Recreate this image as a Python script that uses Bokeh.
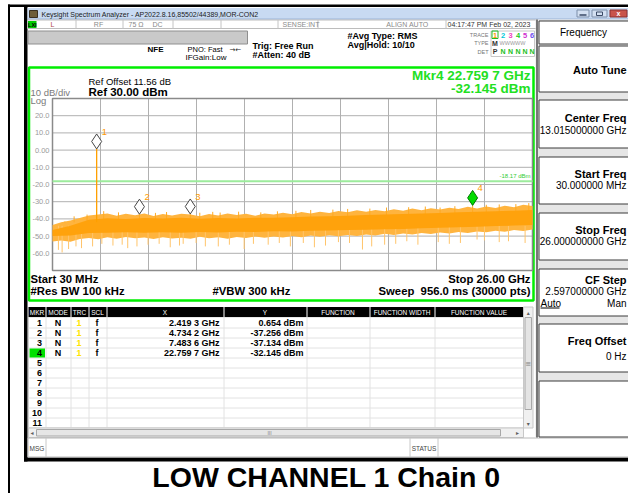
from bokeh.plotting import figure
from bokeh.models import Range1d
from bokeh.core.properties import value
from bokeh.embed import file_html
from bokeh.resources import INLINE

# ---------------- data ----------------
start_ghz = 0.03
stop_ghz = 26.0
ref_level_dbm = 30.0
db_per_div = 10.0
n_div = 10
ref_offset_db = 11.56
display_line_dbm = -18.17
rbw_khz = 100
vbw_khz = 300
sweep_ms = 956.0
sweep_pts = 30000
atten_db = 40
avg_hold = "10/10"

y_tick_values = [20, 10, 0, -10, -20, -30, -40, -50, -60]
y_tick_labels = ["20.0", "10.0", "0.00", "-10.0", "-20.0", "-30.0", "-40.0", "-50.0", "-60.0"]

marker_ids = [1, 2, 3, 4]
marker_freq_ghz = [2.4193, 4.7342, 7.4836, 22.7597]
marker_level_dbm = [0.654, -37.256, -37.134, -32.145]
active_marker = 4
table_row_labels = ["1", "2", "3", "4", "5", "6", "7", "8", "9", "10", "11"]
table_headers = ["MKR", "MODE", "TRC", "SCL", "X", "Y", "FUNCTION", "FUNCTION WIDTH", "FUNCTION VALUE"]

trace_numbers = ["1", "2", "3", "4", "5", "6"]

# noise band envelope (outer fuzz), 0.5 GHz steps
noise_freq_ghz = [0.03, 0.5, 1.0, 1.5, 2.0, 2.5, 3.0, 3.5, 4.0, 4.5, 5.0, 5.5, 6.0, 6.5, 7.0, 7.5,
                  8.0, 8.5, 9.0, 9.5, 10.0, 10.5, 11.0, 11.5, 12.0, 12.5, 13.0, 13.5, 14.0, 14.5,
                  15.0, 15.5, 16.0, 16.5, 17.0, 17.5, 18.0, 18.5, 19.0, 19.5, 20.0, 20.5, 21.0,
                  21.5, 22.0, 22.5, 23.0, 23.5, 24.0, 24.5, 25.0, 25.5, 26.0]
noise_top_dbm = [-43.5, -42.0, -41.0, -39.5, -38.0, -37.5, -36.8, -38.2, -37.0, -37.9, -36.9, -38.3,
                 -37.2, -38.0, -37.0, -37.4, -38.5, -37.1, -38.0, -36.8, -37.8, -37.0, -38.2, -36.9,
                 -37.5, -36.4, -37.3, -36.0, -36.9, -35.8, -36.5, -35.4, -36.2, -35.0, -35.9, -34.8,
                 -35.6, -34.4, -35.2, -34.0, -34.9, -33.8, -34.6, -33.5, -34.2, -33.0, -33.9, -32.8,
                 -33.6, -32.4, -33.2, -31.8, -32.5]
noise_bottom_dbm = [-53.2, -52.5, -53.3, -51.7, -51.1, -51.9, -50.7, -51.6, -50.5, -51.3, -50.8,
                    -51.7, -50.6, -51.4, -50.9, -51.5, -50.4, -51.2, -50.7, -51.6, -50.5, -51.1,
                    -50.3, -51.0, -50.2, -50.8, -49.9, -50.6, -49.7, -50.4, -49.5, -50.1, -49.3,
                    -49.9, -49.0, -49.6, -48.7, -49.4, -48.5, -49.1, -48.2, -48.8, -47.9, -48.5,
                    -47.6, -48.2, -47.3, -47.8, -46.9, -47.5, -46.5, -47.1, -46.2]
# dense core of the trace, 1 GHz steps
core_freq_ghz = [0.03, 1, 2, 3, 4, 5, 6, 7, 8, 9, 10, 11, 12, 13, 14, 15, 16, 17, 18, 19, 20,
                 21, 22, 23, 24, 25, 26]
core_top_dbm = [-46.5, -44.0, -40.5, -39.6, -40.0, -39.5, -39.8, -39.4, -39.9, -39.5, -39.7, -39.3,
                -39.4, -39.0, -38.6, -38.4, -38.1, -37.8, -37.5, -37.2, -36.9, -36.6, -36.2, -35.9,
                -35.6, -35.2, -34.8]
core_bottom_dbm = [-50.0, -49.6, -48.2, -48.0, -47.8, -48.1, -47.7, -48.0, -47.6, -47.9, -47.5,
                   -47.6, -47.2, -47.3, -46.9, -46.8, -46.5, -46.3, -46.0, -45.8, -45.5, -45.2,
                   -44.9, -44.6, -44.2, -43.9, -43.5]
# isolated excursions of the noise
spike_down_freq_ghz = [0.35, 0.55, 0.9, 1.3, 1.6, 2.2, 2.7, 3.3, 3.8, 4.1, 4.6, 5.2, 5.8, 6.4,
                       6.9, 7.1, 7.8, 8.3, 9.0, 9.6, 10.4, 10.9, 11.7, 12.3, 12.9, 13.6, 14.2,
                       14.8, 15.5, 16.1, 16.8, 17.3, 18.0, 18.6, 19.2, 19.8, 20.9, 21.5, 22.1,
                       23.0, 23.4, 24.2, 24.7, 25.6]
spike_down_dbm = [-58.0, -59.5, -57.5, -56.0, -57.0, -56.0, -54.5, -55.5, -55.0, -57.0, -56.0,
                  -55.0, -54.5, -56.5, -55.5, -54.5, -54.0, -56.0, -56.0, -55.0, -57.5, -54.5,
                  -55.0, -54.0, -56.0, -54.0, -56.5, -55.5, -53.5, -54.0, -57.8, -56.0, -55.0,
                  -54.5, -53.0, -55.0, -53.5, -54.5, -54.0, -52.0, -52.5, -53.5, -53.0, -54.0]
spike_up_freq_ghz = [0.7, 1.2, 1.9, 2.8, 3.6, 4.7342, 5.6, 6.2, 7.4836, 8.0, 8.7, 9.1, 10.1,
                     11.3, 12.2, 13.2, 14.0, 15.2, 16.0, 17.2, 18.1, 19.3, 20.2, 21.0, 21.8,
                     22.7597, 23.5, 24.2, 25.1, 25.8]
spike_up_dbm = [-41.5, -38.5, -37.5, -35.5, -36.2, -37.256, -36.5, -36.0, -37.134, -36.4, -35.9,
                -36.3, -35.8, -36.2, -35.6, -35.3, -34.8, -34.6, -34.2, -34.0, -33.4, -33.2,
                -32.8, -33.4, -32.6, -32.145, -31.8, -31.6, -31.4, -30.8]

# ---------------- helpers ----------------
SANS = "Liberation Sans"
W, H = 628, 493
p = figure(width=W, height=H, x_range=Range1d(0, W), y_range=Range1d(H, 0),
           output_backend="svg", toolbar_location=None, x_axis_type=None, y_axis_type=None,
           min_border=0, outline_line_color=None,
           background_fill_color="white", border_fill_color="white")


def T(x, y, s, size=9, color="#000000", bold=False, align="left", base="middle", font=SANS):
    p.text(x=[x], y=[y], text=[s], text_font=value(font), text_font_size=f"{size}px",
           text_color=color, text_font_style=("bold" if bold else "normal"),
           text_align=align, text_baseline=base)


def Q(x0, y0, x1, y1, fill="#ffffff", line=None, lw=1.0):
    p.quad(left=[x0], right=[x1], top=[y0], bottom=[y1], fill_color=fill,
           line_color=line, line_width=lw)


def L(x0, y0, x1, y1, color="#000000", lw=1.0):
    p.segment(x0=[x0], y0=[y0], x1=[x1], y1=[y1], line_color=color, line_width=lw)


def fmt_ghz(f):
    s = f"{f:.4f}"
    return s[:-1] + " " + s[-1]


# ---------------- page frame ----------------
Q(7.5, 4, 9.5, 493, fill="#000000")
Q(7.5, 4, 628, 6.5, fill="#000000")
Q(23.5, 6, 27, 461, fill="#000000")
Q(23.5, 457, 628, 461, fill="#000000")

# title bar
Q(27, 7.5, 628, 19, fill="#C8DAF2", line=None)
L(27, 18.5, 628, 18.5, "#9DB4D6", 1)
Q(29, 10, 37, 17, fill="#6E5E3A", line="#3A3020")
T(41, 13.5, "Keysight Spectrum Analyzer - AP2022.8.16,85502/44389,MOR-CON2", 7, "#1A1A1A")
Q(576.5, 9.5, 588.5, 16.5, fill="#D3E0F2", line="#7C8FAA")
Q(591.5, 9.5, 606.5, 16.5, fill="#D3E0F2", line="#7C8FAA")
Q(609.5, 9.5, 626.5, 16.5, fill="#C9544B", line="#8A3030")
L(579, 14.5, 586, 14.5, "#3A4A66", 1.5)
Q(596, 11.5, 602, 15, fill=None, line="#3A4A66")
T(618, 13, "x", 7, "#FFFFFF", bold=True, align="center")

# status row
Q(27, 19.5, 536, 28, fill="#FFFFFF", line="#BDBDBD")
Q(27.5, 20.5, 36, 27.5, fill="#00CC00")
T(31.8, 24.2, "LXI", 5.5, "#000000", bold=True, align="center")
for sx in [75.5, 122.5, 172.5, 220.5, 277.5, 317.5, 445.5]:
    L(sx, 19.5, sx, 28, "#C4C4C4", 1)
T(52, 24.2, "L", 7, "#B04848", align="center")
T(98, 24.2, "RF", 7, "#8A8A8A", align="center")
T(128, 24.2, "75 \u03a9", 7, "#8A8A8A")
T(152, 24.2, "DC", 7, "#8A8A8A")
T(282, 24.2, "SENSE:INT", 7, "#8A8A8A")
T(407, 24.2, "ALIGN AUTO", 7, "#8A8A8A", align="center")
T(447, 24.2, "04:17:47 PM Feb 02, 2023", 7, "#333333")

# header
Q(27.5, 30.5, 247, 43.5, fill="#C9C9C9", line="#8F8F8F")
T(147, 49, "NFE", 8, bold=True)
T(187, 49, "PNO: Fast", 7.5)
T(229, 49, "\u2192\u2190", 7, "#222222", font="DejaVu Sans")
T(185, 57, "IFGain:Low", 8)
T(252, 45, "Trig: Free Run", 9, bold=True)
T(252, 54, f"#Atten: {atten_db} dB", 9, bold=True)
T(347, 35, "#Avg Type: RMS", 9, bold=True)
T(347, 44, f"Avg|Hold: {avg_hold}", 9, bold=True)

Q(490.5, 30.5, 534, 56, fill="#FFFFFF", line="#C8C8C8")
T(488, 34, "TRACE", 5.5, "#777777", align="right")
T(488, 42.5, "TYPE", 5.5, "#777777", align="right")
T(488, 51, "DET", 5.5, "#777777", align="right")
trace_colors = ["#FF9A00", "#00C8D8", "#F040C0", "#20C820", "#D030D0", "#7050F0"]
trace_x = [494.5, 502.5, 510, 517.5, 524.5, 531.5]
Q(491.5, 30.5, 497.5, 38, fill=None, line="#22BB22")
for tn, tc, tx in zip(trace_numbers, trace_colors, trace_x):
    T(tx, 34.5, tn, 7.5, tc, bold=True, align="center")
T(494.5, 42.5, "M", 7, "#333333", bold=True, align="center")
T(499, 42.5, "WWWWW", 5.5, "#9A9A9A")
T(494.5, 51, "P", 7, "#333333", bold=True, align="center")
for tx in trace_x[1:]:
    T(tx, 51, "N", 7, "#20C020", bold=True, align="center")

# ---------------- measurement panel ----------------
Q(28.5, 67, 533, 300, fill="#FFFFFF", line="#00EE00", lw=2.5)
T(88, 81, f"Ref Offset {ref_offset_db:.2f} dB", 9.5)
T(88, 91.5, f"Ref {ref_level_dbm:.2f} dBm", 11.5, bold=True)
T(30, 92, f"{db_per_div:.0f} dB/div", 9.5, "#7A7A7A")
T(30, 100, "Log", 9.5, "#7A7A7A")
T(530, 75, f"Mkr{active_marker} {fmt_ghz(marker_freq_ghz[active_marker - 1])} GHz", 13.5,
  "#22E022", bold=True, align="right")
T(530, 87.5, f"{marker_level_dbm[active_marker - 1]:.3f} dBm", 13.5, "#22E022", bold=True,
  align="right")

GX0, GX1, GY0, GY1 = 52, 532, 98, 270
bottom_dbm = ref_level_dbm - n_div * db_per_div
spec = p.subplot(x_source=Range1d(start_ghz, stop_ghz), y_source=Range1d(bottom_dbm, ref_level_dbm),
                 x_target=Range1d(GX0, GX1), y_target=Range1d(GY1, GY0))

span = stop_ghz - start_ghz
fgrid = [start_ghz + i * span / n_div for i in range(1, n_div)]
spec.segment(x0=fgrid, y0=[bottom_dbm] * len(fgrid), x1=fgrid, y1=[ref_level_dbm] * len(fgrid),
             line_color="#B0B0B0", line_width=1)
spec.segment(x0=[start_ghz] * len(y_tick_values), y0=y_tick_values,
             x1=[stop_ghz] * len(y_tick_values), y1=y_tick_values,
             line_color="#B0B0B0", line_width=1)
Q(GX0, GY0, GX1, GY1, fill=None, line="#8A8A8A", lw=1.5)
spec.text(x=[start_ghz] * len(y_tick_values), y=y_tick_values, text=y_tick_labels, x_offset=-3,
          text_align="right", text_baseline="middle", text_font=value(SANS),
          text_font_size="7.5px", text_color="#9A9A9A")

# display line
spec.segment(x0=[start_ghz], y0=[display_line_dbm], x1=[stop_ghz], y1=[display_line_dbm],
             line_color="#9CEB9C", line_width=2)
spec.text(x=[stop_ghz], y=[display_line_dbm], text=[f"{display_line_dbm:.2f} dBm"], x_offset=-2,
          y_offset=-5, text_align="right", text_baseline="middle", text_font=value(SANS),
          text_font_size="6px", text_color="#33CC33")

# trace
spec.varea(x=noise_freq_ghz, y1=noise_bottom_dbm, y2=noise_top_dbm, fill_color="#FFB43E")
spike_base_low = -44.0
spike_base_high = -42.0
spec.segment(x0=spike_down_freq_ghz, y0=spike_down_dbm, x1=spike_down_freq_ghz,
             y1=[spike_base_low] * len(spike_down_freq_ghz), line_color="#FFC46A", line_width=1)
spec.segment(x0=spike_up_freq_ghz, y0=[spike_base_high] * len(spike_up_freq_ghz),
             x1=spike_up_freq_ghz, y1=spike_up_dbm, line_color="#FFAA22", line_width=1)
spec.varea(x=core_freq_ghz, y1=core_bottom_dbm, y2=core_top_dbm, fill_color="#FFA20C")
spec.segment(x0=[marker_freq_ghz[0]], y0=[spike_base_high], x1=[marker_freq_ghz[0]],
             y1=[marker_level_dbm[0]], line_color="#FFA000", line_width=1.3)

# markers
DSZ = 15
px_per_db = (GY1 - GY0) / (n_div * db_per_div)
marker_center = [lv + (DSZ / 2) / px_per_db for lv in marker_level_dbm]
m_fill = ["#00DD00" if m == active_marker else "#FFFFFF" for m in marker_ids]
m_line = ["#007700" if m == active_marker else "#444444" for m in marker_ids]
spec.scatter(x=marker_freq_ghz, y=marker_center, marker="diamond", size=DSZ,
             fill_color=m_fill, line_color=m_line, line_width=1)
spec.text(x=marker_freq_ghz, y=marker_level_dbm, text=[str(m) for m in marker_ids], x_offset=5,
          y_offset=-17, text_align="left", text_baseline="middle", text_font=value(SANS),
          text_font_size="9.5px", text_color="#FF9A00")

T(30, 278, f"Start {start_ghz * 1000:.0f} MHz", 11.3, bold=True)
T(530, 278, f"Stop {stop_ghz:.2f} GHz", 11.3, bold=True, align="right")
T(30, 290.5, f"#Res BW {rbw_khz} kHz", 11.3, bold=True)
T(212, 290.5, f"#VBW {vbw_khz} kHz", 11.3, bold=True)
T(530, 290.5, f"Sweep\u00a0 {sweep_ms:.1f} ms ({sweep_pts} pts)", 11.3, bold=True, align="right")

# ---------------- marker table ----------------
col_edges = [28, 45, 70, 88, 106, 223, 306, 369, 434, 523]
HDR0, HDR1 = 306.5, 316.5
ROW0, ROWH = 317.5, 10
n_rows = len(table_row_labels)
Q(28, HDR1, 523, ROW0 + n_rows * ROWH, fill="#FFFFFF", line="#D0D0D0")
Q(28, HDR0, 523, HDR1, fill="#000000")
for i in range(1, n_rows + 1):
    L(28, ROW0 + i * ROWH, 523, ROW0 + i * ROWH, "#E2E2E2", 1)
for cx in col_edges[1:-1]:
    L(cx + 0.5, HDR1, cx + 0.5, ROW0 + n_rows * ROWH, "#E2E2E2", 1)
    L(cx + 0.5, HDR0, cx + 0.5, HDR1, "#FFFFFF", 1)
for h, a, b in zip(table_headers, col_edges[:-1], col_edges[1:]):
    T((a + b) / 2, 311.7, h, 6.5, "#FFFFFF", align="center")

for i, lab in enumerate(table_row_labels):
    yc = ROW0 + i * ROWH + 5.3
    if lab == str(active_marker):
        Q(29, ROW0 + i * ROWH + 0.5, 44.5, ROW0 + (i + 1) * ROWH - 0.5, fill="#00E000")
    T(41.5, yc, lab, 9, bold=True, align="right")
for i, (m, f, lv) in enumerate(zip(marker_ids, marker_freq_ghz, marker_level_dbm)):
    yc = ROW0 + i * ROWH + 5.3
    T(57.5, yc, "N", 9, bold=True, align="center")
    T(78.5, yc, "1", 9, "#FFE400", bold=True, align="center")
    T(96.5, yc, "f", 9, bold=True, align="center")
    T(219, yc, f"{fmt_ghz(f)} GHz", 9, bold=True, align="right")
    T(303, yc, f"{lv:.3f} dBm", 9, bold=True, align="right")

# scrollbars
Q(523, HDR0, 532.5, 427.5, fill="#F0F0F0", line="#C8C8C8")
Q(524.5, 317, 531, 409, fill="#E4E4E4", line="#A8A8A8")
T(527.8, 311.5, "\u25b4", 6, "#606060", align="center", font="DejaVu Sans")
T(527.8, 422.5, "\u25be", 6, "#606060", align="center", font="DejaVu Sans")
T(527.8, 363, "\u2261", 7, "#808080", align="center", font="DejaVu Sans")
Q(28, 427.5, 523, 437, fill="#F0F0F0", line="#C8C8C8")
Q(36, 429, 500, 435.5, fill="#E6E6E6", line="#A8A8A8")
T(31.5, 432.3, "\u25c2", 6, "#606060", align="center", font="DejaVu Sans")
T(517, 432.3, "\u25b8", 6, "#606060", align="center", font="DejaVu Sans")
T(269, 432.3, "III", 5, "#808080", align="center")

# message row
Q(27.5, 437.5, 628, 456.5, fill="#FFFFFF", line="#B8B8B8")
L(45.5, 437.5, 45.5, 456.5, "#C8C8C8")
L(409.5, 437.5, 409.5, 456.5, "#C8C8C8")
L(437.5, 437.5, 437.5, 456.5, "#C8C8C8")
T(29, 447.5, "MSG", 6.5, "#444444")
T(423.5, 447.5, "STATUS", 6.5, "#444444", align="center")

# ---------------- softkey panel ----------------
Q(535, 19, 628, 437, fill="#E6E6E6")
L(536.5, 19, 536.5, 437, "#505050", 1.5)
RX = 626
keys = [(20, 43), (45, 91), (99, 147), (156, 203), (212, 259), (268, 315), (323, 371), (380, 436)]
for a, b in keys:
    Q(538.5, a + 0.5, 634, b + 0.5, fill="#FFFFFF", line="#3A3A3A")
T(583, 32, "Frequency", 10, align="center")
T(RX, 69, "Auto Tune", 11, bold=True, align="right")
T(RX, 117, "Center Freq", 11, bold=True, align="right")
T(RX, 129.5, f"{(start_ghz + stop_ghz) / 2:.9f} GHz", 10, align="right")
T(RX, 173, "Start Freq", 11, bold=True, align="right")
T(RX, 184.5, f"{start_ghz * 1000:.6f} MHz", 10, align="right")
T(RX, 229, "Stop Freq", 11, bold=True, align="right")
T(RX, 240.5, f"{stop_ghz:.9f} GHz", 10, align="right")
T(RX, 279.5, "CF Step", 11, bold=True, align="right")
T(RX, 291, f"{span / n_div:.9f} GHz", 10, align="right")
T(540, 303, "Auto", 10)
L(540, 307.5, 559, 307.5, "#000000", 1)
T(RX, 303, "Man", 10, align="right")
T(RX, 340, "Freq Offset", 11, bold=True, align="right")
T(RX, 356, "0 Hz", 10, align="right")

# ---------------- caption ----------------
T(326, 476.5, "LOW CHANNEL 1 Chain 0", 28.5, bold=True, align="center", base="middle")

open("out.html", "w").write(file_html(p, INLINE))
